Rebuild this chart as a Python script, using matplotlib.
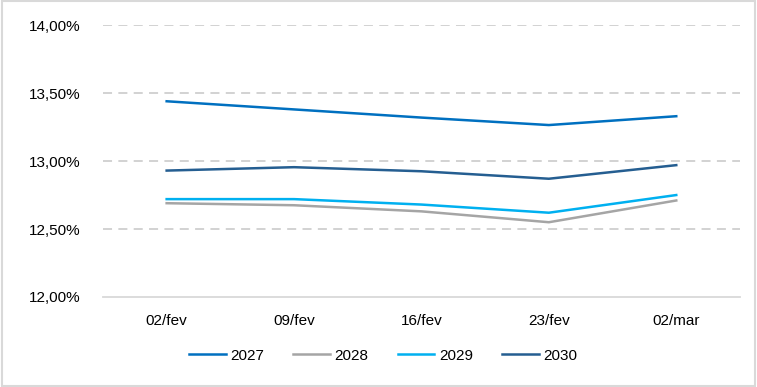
import matplotlib
matplotlib.use("Agg")
import matplotlib.pyplot as plt
from matplotlib.ticker import FuncFormatter

plt.rcParams['font.family'] = ['Liberation Sans', 'DejaVu Sans']

datas = ['02/fev', '09/fev', '16/fev', '23/fev', '02/mar']
s2027 = [13.44, 13.38, 13.32, 13.265, 13.33]
s2028 = [12.69, 12.675, 12.63, 12.55, 12.71]
s2029 = [12.72, 12.72, 12.68, 12.62, 12.75]
s2030 = [12.93, 12.955, 12.925, 12.87, 12.97]

series = [('2027', s2027, '#0070C0'),
          ('2028', s2028, '#A5A5A5'),
          ('2029', s2029, '#00B0F0'),
          ('2030', s2030, '#255E91')]

fig = plt.figure(figsize=(7.57, 3.87), dpi=100)
ax = fig.add_axes([0.136, 0.2326, 0.8415, 0.7024])

x = range(len(datas))
for nome, vals, cor in series:
    ax.plot(x, vals, color=cor, lw=1.8, label=nome)

ax.set_xlim(-0.5, len(datas) - 0.5)
ax.set_ylim(12.0, 14.0)
ax.set_yticks([12.0, 12.5, 13.0, 13.5, 14.0])
ax.yaxis.set_major_formatter(FuncFormatter(lambda v, p: f'{v:.2f}%'.replace('.', ',')))
ax.set_xticks(list(x))
ax.set_xticklabels(datas)

for g in [12.5, 13.0, 13.5, 14.0]:
    ax.axhline(g, color='#CFCFCF', lw=1.3, ls=(0, (5, 3.5)), zorder=0)

for s in ['top', 'right', 'left']:
    ax.spines[s].set_visible(False)
ax.spines['bottom'].set_color('#D9D9D9')
ax.spines['bottom'].set_linewidth(1.3)
ax.tick_params(axis='both', length=0, labelsize=11, colors='#000000')
ax.tick_params(axis='x', pad=12)
ax.tick_params(axis='y', pad=16)

ax.legend(loc='upper center', bbox_to_anchor=(0.44, -0.14), ncol=4, frameon=False,
          fontsize=11, handlelength=2.4, columnspacing=1.9, handletextpad=0.3)

fig.patches.append(plt.Rectangle((0.002, 0.003), 0.996, 0.994, transform=fig.transFigure,
                                 fill=False, edgecolor='#D9D9D9', lw=1.5))

fig.savefig('out.png', dpi=100)
